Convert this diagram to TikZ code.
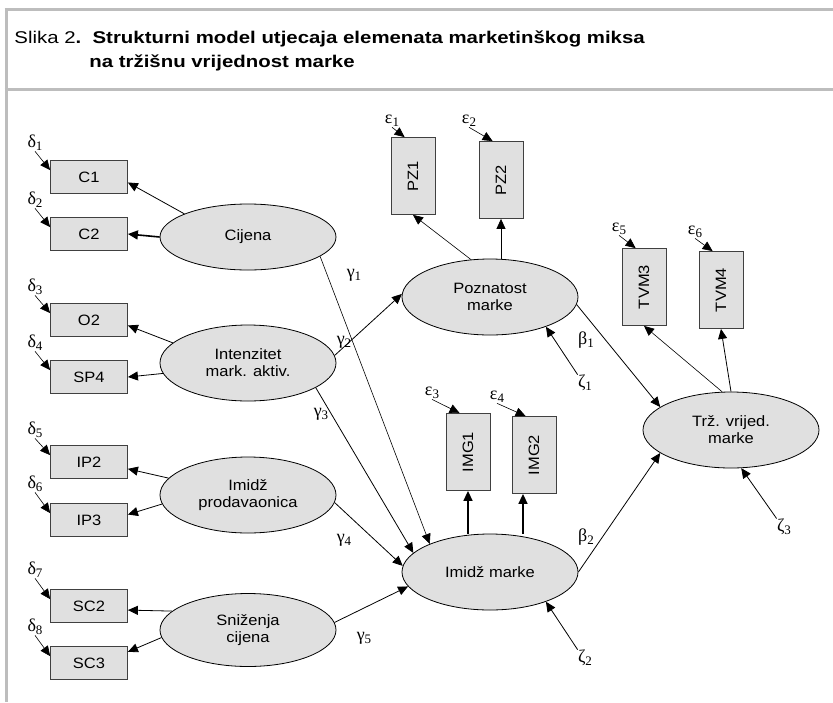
\documentclass[tikz,border=0pt]{standalone}
\usepackage{fontspec}
\setmainfont[FakeStretch=1.1]{Liberation Sans}
\newfontfamily\titlefont[FakeStretch=1.2]{Liberation Sans}
\newfontfamily\grkfont{Liberation Serif}
\usetikzlibrary{shapes,positioning,arrows.meta}
\definecolor{boxgray}{gray}{0.88}
\definecolor{rulegray}{gray}{0.74}
\newcommand{\gsym}[2]{{\grkfont #1\raisebox{-0.4ex}{\fontsize{13}{13}\selectfont #2}}}
\tikzset{var/.style={rectangle,draw=black!75,fill=boxgray,minimum width=77pt,minimum height=33pt,inner sep=0pt,font=\fontsize{15}{17}\selectfont},
  vvar/.style={var,minimum height=44pt,rotate=90},
  lat/.style={ellipse,draw,fill=boxgray,minimum width=176pt,minimum height=76pt,inner sep=0pt,align=center,font=\fontsize{15}{17}\selectfont},
  err/.style={inner sep=0pt,font=\fontsize{18}{18}\selectfont},
  frm/.style={draw=rulegray,line width=3pt}}

\begin{document}
\begin{tikzpicture}[x=1pt,y=-1pt,>={Triangle[length=10pt,width=9pt]},line width=0.8pt]
  \useasboundingbox (0,0) rectangle (833,702);
  % frame and title
  \draw[frm] (6,8) -- (6,702);
  \draw[frm] (4.5,9.5) -- (833,9.5);
  \draw[frm] (4.5,89) -- (833,89);
  \node[anchor=base west,inner sep=0pt] (ttl1) at (14,43) {\titlefont\fontsize{17}{20}\selectfont Slika 2\textbf{.\ \ Strukturni model utjecaja elemenata marketinškog miksa}};
  \node[anchor=base west,inner sep=0pt] (ttl2) at (89,67) {\titlefont\fontsize{17}{20}\selectfont\bfseries na tržišnu vrijednost marke};

  % latent variables
  \node[lat,minimum height=66pt] (cij) at (248,237) {Cijena};
  \node[lat] (int) at (248,363) {Intenzitet\\mark. aktiv.};
  \node[lat] (prod) at (248,495) {Imidž\\prodavaonica};
  \node[lat,minimum height=73pt] (sn) at (248,630) {Sniženja\\cijena};
  \node[lat] (poz) at (490,297) {Poznatost\\marke};
  \node[lat] (imm) at (490,572) {Imidž marke};
  \node[lat] (trz) at (731,430) {Trž. vrijed.\\marke};

  % indicators
  \node[var] (c1) at (89,177) {C1};
  \node[var] (c2) at (89,234) {C2};
  \node[var] (o2) at (89,320) {O2};
  \node[var] (sp4) at (89,377) {SP4};
  \node[var] (ip2) at (89,462) {IP2};
  \node[var] (ip3) at (89,520) {IP3};
  \node[var] (sc2) at (89,606) {SC2};
  \node[var] (sc3) at (89,663) {SC3};
  \node[vvar] (pz1) at (413,176) {PZ1};
  \node[vvar] (pz2) at (501,180) {PZ2};
  \node[vvar] (tvm3) at (644,287) {TVM3};
  \node[vvar] (tvm4) at (721,290) {TVM4};
  \node[vvar] (img1) at (468,452) {IMG1};
  \node[vvar] (img2) at (534,455) {IMG2};

  % error terms
  \node[err] (d1) at (35,143) {\gsym{δ}{1}};
  \node[err] (d2) at (35,200) {\gsym{δ}{2}};
  \node[err] (d3) at (35,287) {\gsym{δ}{3}};
  \node[err] (d4) at (35,343) {\gsym{δ}{4}};
  \node[err] (d5) at (35,430) {\gsym{δ}{5}};
  \node[err] (d6) at (35,484) {\gsym{δ}{6}};
  \node[err] (d7) at (35,570) {\gsym{δ}{7}};
  \node[err] (d8) at (35,627) {\gsym{δ}{8}};
  \node[err] (e1) at (392,121) {\gsym{ε}{1}};
  \node[err] (e2) at (469,121) {\gsym{ε}{2}};
  \node[err] (e3) at (432,393) {\gsym{ε}{3}};
  \node[err] (e4) at (497,397) {\gsym{ε}{4}};
  \node[err] (e5) at (619,229) {\gsym{ε}{5}};
  \node[err] (e6) at (695,232) {\gsym{ε}{6}};
  \node[err] (z1) at (585,383) {\gsym{ζ}{1}};
  \node[err] (z2) at (585,658) {\gsym{ζ}{2}};
  \node[err] (z3) at (784,527) {\gsym{ζ}{3}};

  % path labels
  \node[err] (g1) at (354,275) {\gsym{γ}{1}};
  \node[err] (g2) at (344,342) {\gsym{γ}{2}};
  \node[err] (g3) at (321,414) {\gsym{γ}{3}};
  \node[err] (g4) at (344,540) {\gsym{γ}{4}};
  \node[err] (g5) at (364,638) {\gsym{γ}{5}};
  \node[err] (b1) at (586,340) {\gsym{β}{1}};
  \node[err] (b2) at (586,537) {\gsym{β}{2}};

  % measurement arrows
  \draw[->] (cij.160) -- (c1.-8);
  \draw[->,line width=1.6pt] (cij.west) -- (c2.east);
  \draw[->] (int.165) -- (o2.-8);
  \draw[->] (int.187) -- (sp4.east);
  \draw[->] (prod.168) -- (ip2.-10);
  \draw[->] (prod.186) -- (ip3.8);
  \draw[->] (sn.166) -- (sc2.-6);
  \draw[->] (sn.185) -- (sc3.16);
  \draw[->,line width=0.6pt] (poz.117) -- (pz1.west);
  \draw[->] (pz2.west |- poz.north) -- (pz2.west);
  \draw[->,line width=1.6pt] (img1.west |- imm.north) -- (img1.west);
  \draw[->,line width=1.6pt] ([xshift=-11pt]img2.west |- imm.north) -- ([xshift=-11pt]img2.west);
  \draw[->,line width=0.6pt] (trz.103) -- (tvm3.west);
  \draw[->] (trz.north) -- (tvm4.west);

  % structural arrows
  \draw[->,line width=0.6pt] (cij.-15) -- (imm.155);
  \draw[->] (int.5) -- (poz.178);
  \draw[->] (int.-20) -- (imm.166);
  \draw[->] (prod.-5) -- (imm.176);
  \draw[->] (sn.5) -- (imm.190);
  \draw[->] (poz.-5) -- (trz.162);
  \draw[->] (imm.0) -- (trz.198);

  % error arrows
  \foreach \d/\v in {d1/c1,d2/c2,d3/o2,d4/sp4,d5/ip2,d6/ip3,d7/sc2,d8/sc3}
    \draw[->,line width=0.6pt] (\d.south) -- ([yshift=-10pt]\v.north west);
  \foreach \e/\v in {e1/pz1,e2/pz2,e3/img1,e4/img2,e5/tvm3,e6/tvm4}
    \draw[->,line width=0.6pt] (\e.south) -- ([xshift=14pt]\v.north east);
  \draw[->] (z1.north west) -- (poz.-28);
  \draw[->] (z2.north west) -- (imm.-28);
  \draw[->] (z3.north west) -- (trz.-75);
\end{tikzpicture}
\end{document}
